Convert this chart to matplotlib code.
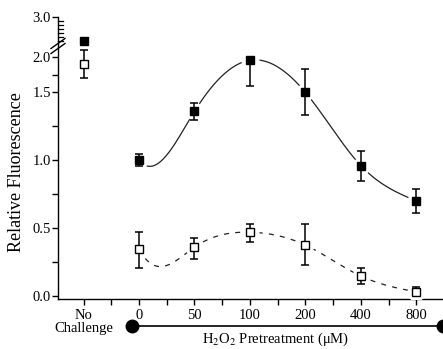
"""Relative fluorescence vs H2O2 pretreatment, broken y axis, Origin-style splines."""
import numpy as np
import matplotlib
matplotlib.use("Agg")
import matplotlib.pyplot as plt

plt.rcParams["font.family"] = ["Liberation Serif", "DejaVu Serif"]
plt.rcParams["mathtext.fontset"] = "stix"

# categories: "No Challenge" then H2O2 concentrations (uM)
CATS = ["No\nChallenge", "0", "50", "100", "200", "400", "800"]
POS = np.arange(len(CATS), dtype=float)

FILLED = [2.40, 1.00, 1.36, 1.96, 1.50, 0.96, 0.70]
FILLED_LO = [0.0, 0.045, 0.065, 0.37, 0.17, 0.11, 0.09]
FILLED_HI = [0.0, 0.045, 0.06, 0.0, 0.34, 0.11, 0.09]

OPEN = [1.91, 0.345, 0.36, 0.47, 0.375, 0.147, 0.03]
OPEN_LO = [0.20, 0.14, 0.085, 0.07, 0.145, 0.06, 0.03]
OPEN_HI = [0.19, 0.125, 0.07, 0.06, 0.155, 0.06, 0.04]

# piecewise y scale (axis compressed above 1.5, broken between 2.17 and 2.3)
YV = np.array([-0.2, 0.0, 1.5, 2.0, 2.17, 2.3, 3.0, 3.5])
YP = np.array([-27.1, 0.0, 204.0, 239.0, 251.0, 251.5, 279.5, 299.5])
LOWER = 136.0  # units per 1.0 on the unbroken lower segment


def fwd(v):
    return np.interp(v, YV, YP)


def inv(p):
    return np.interp(p, YP, YV)


def natural_spline(x, y, xs):
    x = np.asarray(x, float); y = np.asarray(y, float)
    n = len(x); h = np.diff(x)
    A = np.zeros((n, n)); b = np.zeros(n)
    A[0, 0] = A[-1, -1] = 1
    for i in range(1, n - 1):
        A[i, i - 1] = h[i - 1]; A[i, i] = 2 * (h[i - 1] + h[i]); A[i, i + 1] = h[i]
        b[i] = 6 * ((y[i + 1] - y[i]) / h[i] - (y[i] - y[i - 1]) / h[i - 1])
    M = np.linalg.solve(A, b)
    k = np.clip(np.searchsorted(x, xs) - 1, 0, n - 2)
    t0 = x[k + 1] - xs; t1 = xs - x[k]; hk = h[k]
    return (M[k] * t0 ** 3 / (6 * hk) + M[k + 1] * t1 ** 3 / (6 * hk)
            + (y[k] / hk - M[k] * hk / 6) * t0 + (y[k + 1] / hk - M[k + 1] * hk / 6) * t1)


def curve(vals, xs):
    # spline in display space; the hidden no-challenge anchor sits on the unbroken lower scale
    knots = fwd(np.array(vals, float))
    knots[0] = vals[0] * LOWER
    return inv(natural_spline(POS, knots, xs))


fig = plt.figure(figsize=(4.43, 3.49), dpi=100)
ax = fig.add_axes([58 / 443, 1 - 299 / 349, 1 - 58 / 443, (299 - 17) / 349])
ax.set_yscale("function", functions=(fwd, inv))
ax.set_xlim(-0.46, 6.48)
ax.set_ylim(-0.022, 3.0)

xs = np.linspace(1, 6, 300)
ax.plot(xs, curve(FILLED, xs), color="#222222", lw=0.9, zorder=2)
ax.plot(xs, curve(OPEN, xs), color="#222222", lw=0.9, dashes=(4, 5), zorder=2)

# white halos so the lines stop short of the symbols
ax.plot(POS[1:], FILLED[1:], "o", ms=12, color="white", zorder=3)
ax.plot(POS[1:], OPEN[1:], "o", ms=12, color="white", zorder=3)

ekw = dict(fmt="none", ecolor="black", elinewidth=1.1, capsize=2.6, capthick=1.1, zorder=4)
ax.errorbar(POS, FILLED, yerr=[FILLED_LO, FILLED_HI], **ekw)
ax.errorbar(POS, OPEN, yerr=[OPEN_LO, OPEN_HI], **ekw)
ax.plot(POS, FILLED, "s", ms=6, mfc="black", mec="black", zorder=5)
ax.plot(POS, OPEN, "s", ms=6, mfc="white", mec="black", mew=1.0, zorder=5)

# axes styling
for s in ("top", "right"):
    ax.spines[s].set_visible(False)
for s in ("left", "bottom"):
    ax.spines[s].set_linewidth(1.0)
ax.set_xticks(POS)
ax.set_xticklabels(CATS, fontsize=10.5, linespacing=1.05)
ax.set_xticks(np.arange(0.5, 6.5, 1.0), minor=True)
ax.set_yticks([0.0, 0.5, 1.0, 1.5, 2.0, 3.0])
ax.set_yticklabels(["0.0", "0.5", "1.0", "1.5", "2.0", "3.0"], fontsize=10.5)
ax.set_yticks([0.25, 0.75, 1.25, 1.75], minor=True)
ax.tick_params(which="both", direction="out", length=4, width=1.0, colors="black")
ax.tick_params(axis="y", which="major", pad=1)
ax.tick_params(axis="x", which="major", pad=3)

# upper-segment inward minor ticks
ytr = ax.get_yaxis_transform()
for v in np.arange(2.4, 2.95, 0.1):
    ax.plot([0, 0.012], [v, v], color="black", lw=0.9, transform=ytr, clip_on=False)

# axis break marks
yc = (299 - 46) / 282
for off in (-2.5 / 282, 2.5 / 282):
    ax.plot([-7 / 385, 7 / 385], [yc + off - 5 / 282, yc + off + 5 / 282],
            color="black", lw=1.0, transform=ax.transAxes, clip_on=False)

# H2O2 range bar below the axis
xtr = ax.get_xaxis_transform()
yb = -(326 - 299) / 282
ax.plot([0.87, 6.48], [yb, yb], color="black", lw=1.2, transform=xtr, clip_on=False)
ax.plot([0.87, 6.48], [yb, yb], "o", ms=9, color="black", transform=xtr, clip_on=False)
ax.text(3.47, -(339 - 299) / 282, "H$_2$O$_2$ Pretreatment (μM)", transform=xtr,
        ha="center", va="center", fontsize=10.5)

fig.text(17 / 443, 1 - 172 / 349, "Relative Fluorescence", rotation=90,
         ha="center", va="center", fontsize=13)

fig.savefig("out.png", dpi=100)
